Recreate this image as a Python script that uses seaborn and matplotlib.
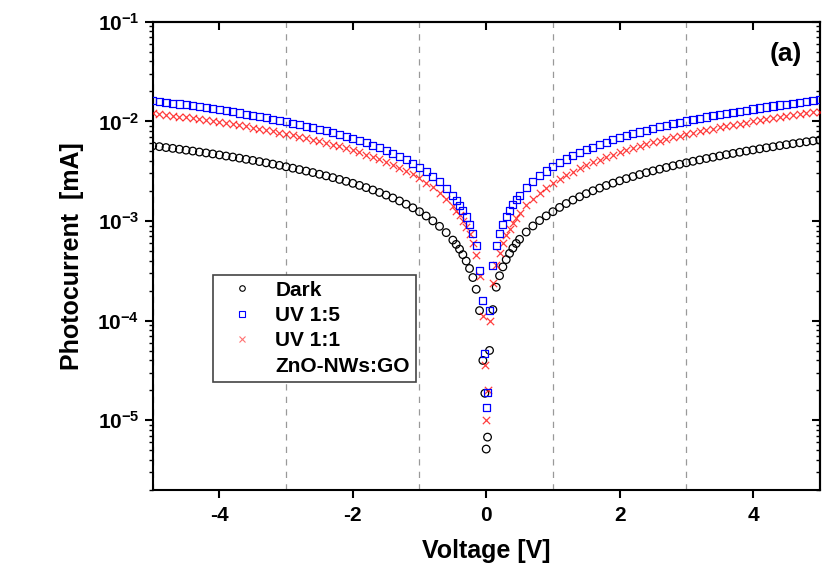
import numpy as np
import matplotlib
matplotlib.use("Agg")
import matplotlib.pyplot as plt
from matplotlib.ticker import MultipleLocator, LogLocator, NullFormatter
from matplotlib.lines import Line2D
import seaborn as sns

# voltage sweep (V): 0.1 V steps, finer steps around 0 V
voltage = np.round(np.concatenate([
    np.arange(-5.0, -0.55, 0.1),
    np.arange(-0.5, -0.04, 0.05),
    [-0.02, 0.0, 0.02],
    np.arange(0.05, 0.51, 0.05),
    np.arange(0.6, 5.05, 0.1),
]), 2)

# log10 of photocurrent [mA]
dark_log = [
    -2.246, -2.254, -2.263, -2.271, -2.280, -2.289, -2.298, -2.308, -2.317, -2.327,
    -2.337, -2.348, -2.358, -2.369, -2.381, -2.392, -2.404, -2.416, -2.429, -2.442,
    -2.456, -2.470, -2.484, -2.499, -2.514, -2.531, -2.547, -2.565, -2.583, -2.602,
    -2.622, -2.643, -2.665, -2.689, -2.714, -2.740, -2.769, -2.799, -2.832, -2.868,
    -2.907, -2.950, -2.999, -3.054, -3.117,
    -3.192, -3.235, -3.283, -3.338, -3.402, -3.477, -3.568, -3.686, -3.900, -4.400,
    -4.73, -5.29, -5.17,
    -4.30, -3.89, -3.665, -3.550, -3.461, -3.388, -3.326, -3.273, -3.226, -3.184,
    -3.111, -3.050, -2.996, -2.949, -2.907, -2.864, -2.825, -2.790, -2.757, -2.726,
    -2.697, -2.670, -2.644, -2.620, -2.597, -2.575, -2.554, -2.534, -2.515, -2.497,
    -2.480, -2.463, -2.446, -2.431, -2.416, -2.401, -2.387, -2.373, -2.360, -2.347,
    -2.334, -2.322, -2.310, -2.298, -2.287, -2.276, -2.265, -2.255, -2.244, -2.234,
    -2.224, -2.215, -2.205, -2.196, -2.187,
]
uv15_log = [
    -1.791, -1.800, -1.808, -1.817, -1.826, -1.835, -1.844, -1.854, -1.864, -1.874,
    -1.884, -1.894, -1.905, -1.916, -1.928, -1.939, -1.951, -1.964, -1.977, -1.990,
    -2.003, -2.018, -2.032, -2.047, -2.063, -2.079, -2.096, -2.114, -2.132, -2.152,
    -2.172, -2.193, -2.216, -2.240, -2.265, -2.292, -2.320, -2.351, -2.384, -2.420,
    -2.460, -2.504, -2.553, -2.608, -2.672,
    -2.748, -2.792, -2.841, -2.896, -2.960, -3.036, -3.129, -3.249, -3.50, -3.80,
    -4.33, -4.87, -4.72,
    -3.90, -3.45, -3.245, -3.125, -3.032, -2.956, -2.892, -2.836, -2.787, -2.743,
    -2.667, -2.603, -2.547, -2.498, -2.454, -2.414, -2.378, -2.345, -2.314, -2.285,
    -2.258, -2.233, -2.209, -2.186, -2.165, -2.145, -2.125, -2.107, -2.089, -2.072,
    -2.056, -2.040, -2.025, -2.010, -1.996, -1.982, -1.969, -1.956, -1.944, -1.932,
    -1.920, -1.909, -1.897, -1.887, -1.876, -1.866, -1.856, -1.846, -1.836, -1.827,
    -1.818, -1.809, -1.800, -1.791, -1.783,
]
uv11_log = [
    -1.918, -1.926, -1.935, -1.943, -1.952, -1.961, -1.970, -1.979, -1.989, -1.999,
    -2.009, -2.019, -2.030, -2.040, -2.051, -2.063, -2.075, -2.087, -2.099, -2.112,
    -2.125, -2.139, -2.153, -2.168, -2.183, -2.199, -2.216, -2.233, -2.251, -2.270,
    -2.290, -2.311, -2.333, -2.356, -2.380, -2.407, -2.435, -2.465, -2.497, -2.532,
    -2.571, -2.614, -2.662, -2.716, -2.778,
    -2.852, -2.895, -2.943, -2.997, -3.059, -3.133, -3.224, -3.341, -3.55, -3.95,
    -4.45, -5.00, -4.70,
    -4.00, -3.62, -3.445, -3.320, -3.223, -3.144, -3.077, -3.019, -2.968, -2.922,
    -2.843, -2.776, -2.718, -2.667, -2.621, -2.578, -2.539, -2.504, -2.471, -2.440,
    -2.411, -2.384, -2.358, -2.334, -2.311, -2.289, -2.268, -2.248, -2.229, -2.211,
    -2.194, -2.177, -2.160, -2.145, -2.130, -2.115, -2.101, -2.087, -2.074, -2.061,
    -2.048, -2.036, -2.024, -2.012, -2.001, -1.990, -1.979, -1.969, -1.958, -1.948,
    -1.938, -1.929, -1.919, -1.910, -1.901,
]
labels = ["Dark", "UV 1:5", "UV 1:1", "ZnO-NWs:GO"]

assert len(voltage) == len(dark_log) == len(uv15_log) == len(uv11_log)
dark = 10.0 ** np.array(dark_log)
uv15 = 10.0 ** np.array(uv15_log)
uv11 = 10.0 ** np.array(uv11_log)

sns.set_style("ticks", rc={"axes.edgecolor": "black", "xtick.color": "black",
                           "ytick.color": "black", "text.color": "black",
                           "axes.labelcolor": "black"})
plt.rcParams["font.family"] = ["Liberation Sans", "DejaVu Sans"]
plt.rcParams["font.weight"] = "bold"
plt.rcParams["axes.unicode_minus"] = False

fig, ax = plt.subplots(figsize=(8.39, 5.88), dpi=100)
fig.subplots_adjust(left=0.182, right=0.977, top=0.963, bottom=0.167)
ax.set_yscale("log")

sns.scatterplot(x=voltage, y=dark, ax=ax, marker="o", s=30, facecolor="none",
                edgecolor="black", linewidth=0.9, zorder=3)
sns.scatterplot(x=voltage, y=uv11, ax=ax, marker="x", s=28, color="red",
                alpha=0.75, linewidth=0.9, zorder=3)
sns.scatterplot(x=voltage, y=uv15, ax=ax, marker="s", s=26, facecolor="none",
                edgecolor="blue", linewidth=0.9, zorder=4)

ax.set_xlim(-5, 5)
ax.set_ylim(2e-6, 1e-1)
ax.xaxis.set_major_locator(MultipleLocator(2))
ax.xaxis.set_minor_locator(MultipleLocator(1))
ax.yaxis.set_major_locator(LogLocator(base=10, numticks=10))
ax.yaxis.set_minor_locator(LogLocator(base=10, subs=np.arange(2, 10), numticks=10))
ax.yaxis.set_minor_formatter(NullFormatter())
ax.tick_params(axis="x", which="major", direction="out", length=6, width=1.5, labelsize=15, pad=6)
ax.tick_params(axis="x", which="minor", length=0)
ax.tick_params(axis="y", which="major", direction="out", length=6, width=1.5, labelsize=15)
ax.tick_params(axis="y", which="minor", direction="out", length=3, width=1)
ax.grid(False)
ax.grid(which="minor", axis="x", color="#999999", linestyle=(0, (5, 5)), linewidth=0.9)
for sp in ax.spines.values():
    sp.set_linewidth(1.5)

top = ax.secondary_xaxis("top")
top.xaxis.set_major_locator(MultipleLocator(2))
top.tick_params(direction="in", length=6, width=1.5, labeltop=False)
top.spines["top"].set_linewidth(1.5)
right = ax.secondary_yaxis("right")
right.tick_params(which="major", direction="in", length=6, width=1.5, labelright=False)
right.tick_params(which="minor", direction="in", length=3, width=1, labelright=False)
right.spines["right"].set_linewidth(1.5)

ax.set_xlabel("Voltage [V]", fontsize=18, fontweight="bold", labelpad=10)
ax.set_ylabel("Photocurrent  [mA]", fontsize=18, fontweight="bold", labelpad=10)
ax.text(0.973, 0.957, "(a)", transform=ax.transAxes, ha="right", va="top",
        fontsize=19, fontweight="bold")

handles = [
    Line2D([], [], ls="none", marker="o", mfc="none", mec="black", ms=4, mew=0.8),
    Line2D([], [], ls="none", marker="s", mfc="none", mec="blue", ms=4, mew=0.8),
    Line2D([], [], ls="none", marker="x", color="red", alpha=0.55, ms=4, mew=0.8),
    Line2D([], [], ls="none"),
]
leg = ax.legend(handles, labels, loc="upper left", bbox_to_anchor=(0.09, 0.46),
                borderaxespad=0, fancybox=False, edgecolor="#444444", framealpha=1,
                prop={"size": 15, "weight": "bold"}, handlelength=2.2,
                handletextpad=0.5, borderpad=0.3, labelspacing=0.3)
leg.get_frame().set_linewidth(1.2)

fig.savefig("out.png", dpi=100)
